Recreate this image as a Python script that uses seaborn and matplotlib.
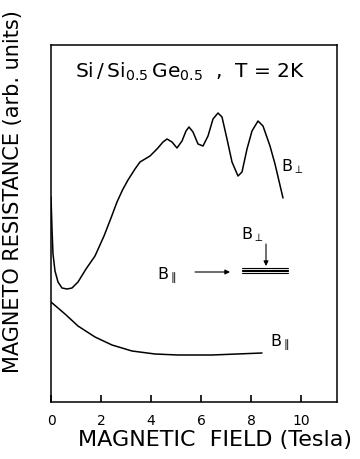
import numpy as np
import pandas as pd
import matplotlib
matplotlib.use("Agg")
import matplotlib.pyplot as plt
import seaborn as sns

# ---- data (resistance in arbitrary units) ----
b_perp_field = [0.00, 0.04, 0.08, 0.16, 0.28, 0.44, 0.64, 0.84, 1.08, 1.40,
                1.76, 2.12, 2.40, 2.64, 2.86, 3.08, 3.36, 3.56, 3.76, 3.96,
                4.24, 4.48, 4.64, 4.84, 5.04, 5.24, 5.40, 5.52, 5.68, 5.88,
                6.08, 6.28, 6.48, 6.68, 6.84, 7.04, 7.24, 7.48, 7.64, 7.84,
                8.04, 8.28, 8.48, 8.76, 8.96, 9.28]
b_perp_res = [205, 173, 148, 131, 120, 114, 113, 114, 120, 133,
              146, 166, 184, 200, 212, 222, 233, 240, 243, 246,
              253, 260, 263, 260, 254, 261, 271, 275, 270, 258,
              256, 266, 283, 289, 285, 263, 240, 226, 230, 253,
              271, 281, 276, 256, 238, 204]

b_par_field = [0.00, 0.56, 1.08, 1.76, 2.44, 3.24, 4.16, 5.08, 6.44, 8.44]
b_par_res = [100, 88, 76, 65, 57, 51, 48, 47, 47, 49]

x_ticks = [0, 2, 4, 6, 8, 10]
x_tick_labels = ["0", "2", "4", "6", "8", "10"]

title_text = r"Si$\,$/$\,$Si$_{0.5}\,$Ge$_{0.5}$  ,  T = 2K"
xlabel_text = "MAGNETIC  FIELD (Tesla)"
ylabel_text = "MAGNETO RESISTANCE (arb. units)"
perp_label = r"B$_{\perp}$"
par_label = r"B$_{\parallel}$"

df = pd.concat([
    pd.DataFrame({"field": b_perp_field, "res": b_perp_res, "orient": "perp"}),
    pd.DataFrame({"field": b_par_field, "res": b_par_res, "orient": "par"}),
], ignore_index=True)

sns.set_theme(style="ticks")
plt.rcParams["font.family"] = ["DejaVu Sans"]
plt.rcParams["mathtext.fontset"] = "dejavusans"
plt.rcParams["mathtext.default"] = "regular"
plt.rcParams["text.color"] = "black"

fig = plt.figure(figsize=(3.6, 4.6), dpi=100)
ax = fig.add_axes([51 / 360, 1 - 403 / 460, (337 - 51) / 360, (403 - 45.7) / 460])

sns.lineplot(data=df, x="field", y="res", hue="orient", units="orient",
             estimator=None, sort=False, palette={"perp": "black", "par": "black"},
             linewidth=1.1, legend=False, ax=ax)

ax.set_xlim(0, (337 - 51) / 25)
ax.set_ylim(0, 403 - 45.7)
ax.set_xticks(x_ticks)
ax.set_xticklabels(x_tick_labels, fontsize=10, color="black")
ax.set_yticks([])
ax.xaxis.set_tick_params(which="major", direction="in", length=5, width=1.2,
                         color="black", pad=8, bottom=True, top=False,
                         labelbottom=True)
for s in ax.spines.values():
    s.set_visible(True)
    s.set_color("black")
    s.set_linewidth(1.1)
ax.set_xlabel("")
ax.set_ylabel("")

fig.text(215 / 360, 1 - 440 / 460, xlabel_text, ha="center", va="center",
         fontsize=16, color="black")
fig.text(13 / 360, 1 - 192 / 460, ylabel_text, ha="center", va="center",
         rotation=90, fontsize=15, color="black")

# annotations
ax.text(5.56, 331, title_text, ha="center", va="center", fontsize=14.5)
ax.text(9.64, 236, perp_label, ha="center", va="center", fontsize=11.5)
ax.text(9.16, 61, par_label, ha="center", va="center", fontsize=11.5)
ax.text(4.64, 128, par_label, ha="center", va="center", fontsize=11.5)
ax.text(8.04, 168, perp_label, ha="center", va="center", fontsize=11.5)
ax.annotate("", xy=(7.16, 130), xytext=(5.76, 130),
            arrowprops=dict(arrowstyle="-|>", color="black", lw=0.8,
                            mutation_scale=7, shrinkA=0, shrinkB=0))
ax.annotate("", xy=(8.6, 136), xytext=(8.6, 158),
            arrowprops=dict(arrowstyle="-|>", color="black", lw=0.8,
                            mutation_scale=7, shrinkA=0, shrinkB=0))
for yy in [129.0, 130.7, 132.4, 134.1]:
    ax.plot([7.64, 9.48], [yy, yy], color="black", lw=0.8)

fig.savefig("out.png", dpi=100, facecolor="white")
